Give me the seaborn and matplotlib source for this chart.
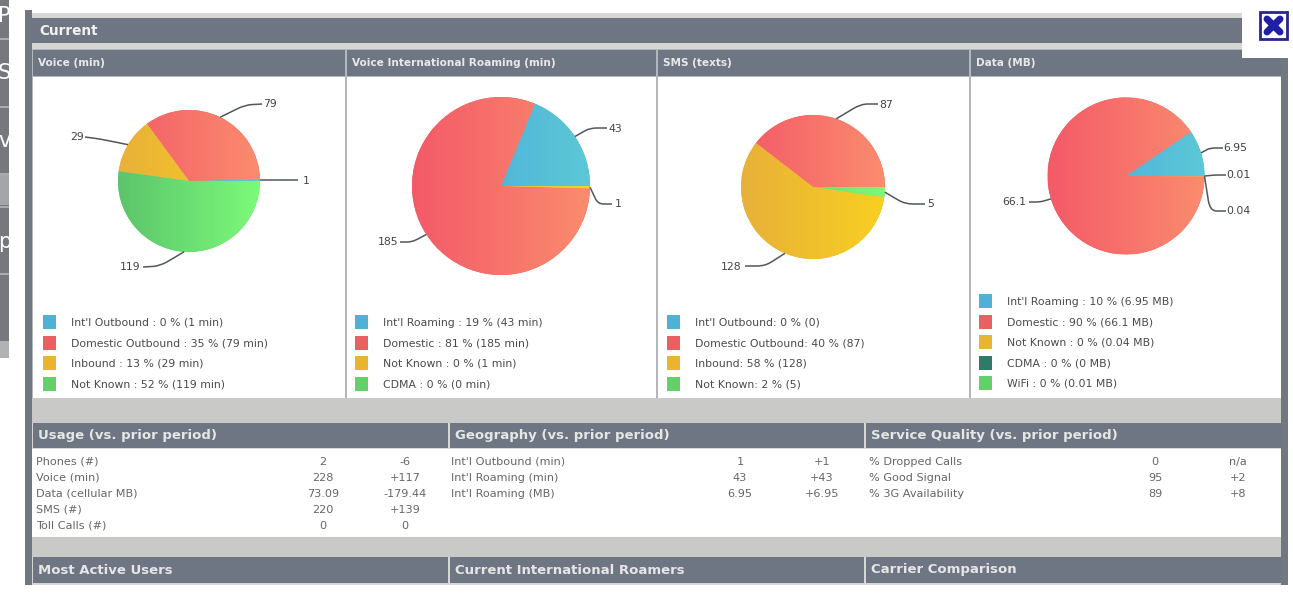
import numpy as np
import matplotlib
matplotlib.use("Agg")
import matplotlib.pyplot as plt
from matplotlib.patches import Rectangle, PathPatch
from matplotlib.path import Path
import seaborn as sns

# ---------- data ----------
voice_values = [1, 79, 29, 119]
roaming_values = [43, 185, 1, 0]
sms_values = [0, 87, 128, 5]
data_values = [6.95, 66.1, 0.04, 0, 0.01]

voice_legend = ["Int'l Outbound : 0 % (1 min)", "Domestic Outbound : 35 % (79 min)",
                "Inbound : 13 % (29 min)", "Not Known : 52 % (119 min)"]
roaming_legend = ["Int'l Roaming : 19 % (43 min)", "Domestic : 81 % (185 min)",
                  "Not Known : 0 % (1 min)", "CDMA : 0 % (0 min)"]
sms_legend = ["Int'l Outbound: 0 % (0)", "Domestic Outbound: 40 % (87)",
              "Inbound: 58 % (128)", "Not Known: 2 % (5)"]
data_legend = ["Int'l Roaming : 10 % (6.95 MB)", "Domestic : 90 % (66.1 MB)",
               "Not Known : 0 % (0.04 MB)", "CDMA : 0 % (0 MB)", "WiFi : 0 % (0.01 MB)"]

pie_titles = ["Voice (min)", "Voice International Roaming (min)", "SMS (texts)", "Data (MB)"]

usage_rows = ["Phones (#)", "Voice (min)", "Data (cellular MB)", "SMS (#)", "Toll Calls (#)"]
usage_now = ["2", "228", "73.09", "220", "0"]
usage_delta = ["-6", "+117", "-179.44", "+139", "0"]
geo_rows = ["Int'l Outbound (min)", "Int'l Roaming (min)", "Int'l Roaming (MB)"]
geo_now = ["1", "43", "6.95"]
geo_delta = ["+1", "+43", "+6.95"]
service_rows = ["% Dropped Calls", "% Good Signal", "% 3G Availability"]
service_now = ["0", "95", "89"]
service_delta = ["n/a", "+2", "+8"]

section_titles = ["Usage (vs. prior period)", "Geography (vs. prior period)",
                  "Service Quality (vs. prior period)"]
bottom_titles = ["Most Active Users", "Current International Roamers", "Carrier Comparison"]

# ---------- style ----------
W, H = 1293, 598
sns.set_theme(style="white")
plt.rcParams["font.family"] = ["DejaVu Sans"]

HEADER = "#6f7683"
BAND = "#c9cac8"
FRAME = "#727880"
TXT = "#666666"
BLUE = ("#46a6dc", "#5cc8d6", "#4fb0d8")
RED = ("#f35a68", "#fb8c6e", "#e8605f")
YELLOW = ("#e8b03a", "#f8d020", "#e9b52f")
GREEN = ("#5cc46c", "#7cfa78", "#63d06a")
TEAL = ("#2e7a6a", "#2e7a6a", "#2f7a68")

fig = plt.figure(figsize=(W / 100, H / 100), dpi=100, facecolor="white")
bg = fig.add_axes([0, 0, 1, 1], zorder=0)
bg.set_xlim(0, W)
bg.set_ylim(H, 0)
bg.axis("off")


def box(x0, y0, x1, y1, c, z=1):
    bg.add_patch(Rectangle((x0, y0), x1 - x0, y1 - y0, fc=c, ec="none", zorder=z))


# remains of the page behind the dialog
box(0, 0, 9, 358, "#75797e")
box(0, 175, 9, 205, "#a3a5a8")
box(0, 341, 9, 358, "#b0b2b4")
for yy in (38, 106, 173, 206, 273):
    box(0, yy, 9, yy + 1.5, "#a9abad", 2)
for yy, s in ((16, "P"), (73, "S"), (141, "v"), (242, "p")):
    bg.text(-2, yy, s, fontsize=15, color="white", va="center", ha="left", zorder=3)
box(9, 0, 25, H, "white", 4)

# dialog frame
box(25, 10, 32, 585, FRAME)
box(1281, 10, 1288, 585, FRAME)
box(32, 13, 1281, 585, "#d6d7d5")
box(32, 18, 1281, 43, HEADER, 2)
bg.text(39, 31, "Current", fontsize=9.8, fontweight="bold", color="#f2f2f2", va="center", zorder=3)

# pie panels
panels = [(33, 345), (347, 656), (658, 969), (971, 1281)]
box(32, 49, 1281, 398, "#b4b7ba", 1.5)
for (x0, x1), t in zip(panels, pie_titles):
    box(x0, 50, x1, 76, HEADER, 2)
    box(x0, 77, x1, 398, "white", 2)
    bg.text(x0 + 5, 63, t, fontsize=7.6, fontweight="bold", color="#e8e8e8", va="center", zorder=3)

# lower bands
box(32, 398, 1281, 423, BAND, 1.5)
box(32, 537, 1281, 557, BAND, 1.5)
box(32, 449, 1281, 537, "white", 2)
cols = [(33, 448), (450, 864), (866, 1281)]
for (x0, x1), t, b in zip(cols, section_titles, bottom_titles):
    box(x0, 423, x1, 448, HEADER, 2)
    box(x0, 557, x1, 583, HEADER, 2)
    bg.text(x0 + 5, 436, t, fontsize=9.5, fontweight="bold", color="#e6e6e6", va="center", zorder=3)
    bg.text(x0 + 5, 570, b, fontsize=9.5, fontweight="bold", color="#e6e6e6", va="center", zorder=3)

# close button
box(1242, 0, W, 58, "white", 4)
bg.add_patch(Rectangle((1260, 12), 27, 27, fc="white", ec="#26268c", lw=2, zorder=5))
bg.plot([1267, 1280], [19, 32], color="#1e1ea8", lw=5, zorder=6, solid_capstyle="round")
bg.plot([1267, 1280], [32, 19], color="#1e1ea8", lw=5, zorder=6, solid_capstyle="round")

# tables
row_y = [462, 478, 494, 510, 526]
tables = [(usage_rows, usage_now, usage_delta, 36, 323, 405),
          (geo_rows, geo_now, geo_delta, 451, 740, 822),
          (service_rows, service_now, service_delta, 869, 1155, 1238)]
for rows, now, delta, xl, xn, xd in tables:
    for yy, a, b, c in zip(row_y, rows, now, delta):
        bg.text(xl, yy, a, fontsize=8.1, color=TXT, va="center", ha="left", zorder=3)
        bg.text(xn, yy, b, fontsize=8.1, color=TXT, va="center", ha="center", zorder=3)
        bg.text(xd, yy, c, fontsize=8.1, color=TXT, va="center", ha="center", zorder=3)

# pies: panel, centre, radius, values, legend, colours, legend top, leaders (elbow, end, label x/y)
pies = [
    dict(panel=panels[0], c=(189, 181), r=71, vals=voice_values, leg=voice_legend,
         cols=[BLUE, RED, YELLOW, GREEN], top=315, lx=43,
         lab=["1", "79", "29", "119"],
         lead=[((280, 180), (298, 180), (306, 181)), ((245, 105), (262, 104), (270, 104)),
               ((100, 139), (85, 137), (77, 137)), ((160, 266), (143, 267), (130, 267))]),
    dict(panel=panels[1], c=(501, 186), r=89, vals=roaming_values, leg=roaming_legend,
         cols=[BLUE, RED, YELLOW, GREEN], top=315, lx=355,
         lab=["43", "185", "1", None],
         lead=[((590, 128), (607, 128), (615, 129)), ((412, 242), (400, 242), (388, 242)),
               ((598, 204), (612, 204), (618, 204)), None]),
    dict(panel=panels[2], c=(813, 187), r=72, vals=sms_values, leg=sms_legend,
         cols=[BLUE, RED, YELLOW, GREEN], top=315, lx=667,
         lab=[None, "87", "128", "5"],
         lead=[None, ((861, 104), (878, 104), (886, 105)), ((765, 266), (745, 266), (731, 267)),
               ((905, 204), (925, 204), (931, 204))]),
    dict(panel=panels[3], c=(1126, 176), r=78.5, vals=data_values, leg=data_legend,
         cols=[BLUE, RED, YELLOW, TEAL, GREEN], top=294, lx=979,
         lab=["6.95", "66.1", "0.04", None, "0.01"],
         lead=[((1210, 148), (1223, 148), (1235, 148)), ((1040, 202), (1029, 202), (1014, 202)),
               ((1210, 211), (1226, 211), (1238, 211)), None,
               ((1215, 175), (1226, 175), (1238, 175))]),
]

for p in pies:
    x0, x1 = p["panel"]
    y0, y1 = 77, 398
    ax = fig.add_axes([x0 / W, 1 - y1 / H, (x1 - x0) / W, (y1 - y0) / H], zorder=2)
    cx, cy = p["c"][0], H - p["c"][1]
    r = p["r"]
    wedges, _ = ax.pie(p["vals"], colors=[c[2] for c in p["cols"]], startangle=0, counterclock=True,
                       center=(cx, cy), radius=r, wedgeprops=dict(linewidth=0))
    for w, col in zip(wedges, p["cols"]):
        grad = np.array(sns.blend_palette([col[0], col[1]], 256))[None, :, :]
        im = ax.imshow(grad, extent=(cx - r, cx + r, cy - r, cy + r), aspect="auto", zorder=2)
        im.set_clip_path(w)
    for w, lab, ld in zip(wedges, p["lab"], p["lead"]):
        if ld is None:
            continue
        a = np.deg2rad((w.theta1 + w.theta2) / 2)
        start = np.array([cx + r * np.cos(a), cy + r * np.sin(a)])
        el, end, tp = ld
        el = np.array([el[0], H - el[1]], float)
        end = np.array([end[0], H - end[1]], float)
        near = start + 0.7 * (el - start)
        path = Path([start, near, el, el + 0.4 * (end - el), end],
                    [Path.MOVETO, Path.LINETO, Path.CURVE3, Path.CURVE3, Path.LINETO])
        ax.add_patch(PathPatch(path, fc="none", ec="#50585c", lw=1.1, zorder=3, clip_on=False))
        ax.text(tp[0], H - tp[1], lab, fontsize=7.8, color="#444444", ha="center", va="center", zorder=4)
    ax.set_aspect("auto")
    ax.set_xlim(x0, x1)
    ax.set_ylim(H - y1, H - y0)
    ax.set_axis_off()
    ax.legend(wedges, p["leg"], loc="upper left", bbox_to_anchor=(p["lx"], H - p["top"]),
              bbox_transform=ax.transData, frameon=False, fontsize=7.8, borderaxespad=0, borderpad=0,
              handlelength=1.2, handleheight=1.61, handletextpad=1.39, labelspacing=0.61,
              labelcolor="#4a4a4a")

fig.savefig("out.png", dpi=100)
